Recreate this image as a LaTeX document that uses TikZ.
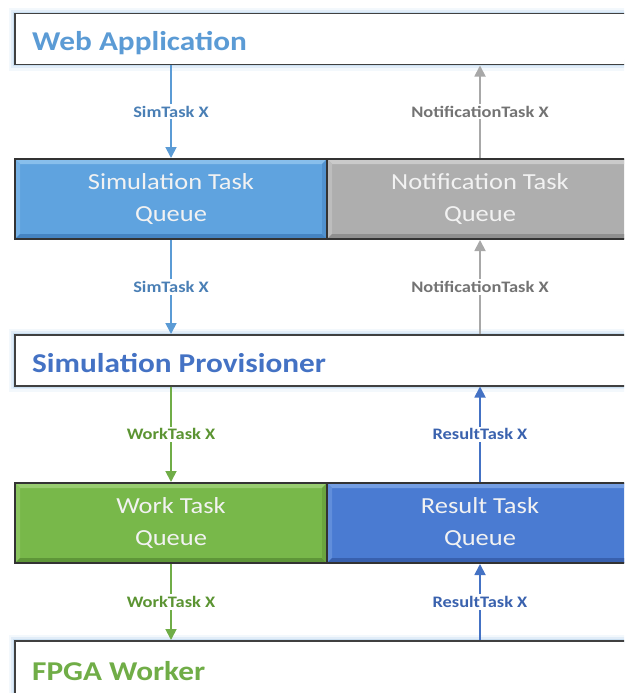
\documentclass[tikz,border=0pt]{standalone}
\usepackage{fontspec}
\setmainfont{Carlito}[FakeStretch=1.15]
\usetikzlibrary{arrows.meta,calc}
\definecolor{glowc}{HTML}{9DC3E6}
\definecolor{webc}{HTML}{5B9BD5}
\definecolor{provc}{HTML}{4472C4}
\definecolor{fpgac}{HTML}{70AD47}
\definecolor{simb}{HTML}{5FA3DF}\definecolor{simt}{HTML}{88BFEC}\definecolor{simd}{HTML}{4584C2}
\definecolor{notb}{HTML}{AEAEAE}\definecolor{nott}{HTML}{CACACA}\definecolor{notd}{HTML}{8F8F8F}
\definecolor{wrkb}{HTML}{78B84A}\definecolor{wrkt}{HTML}{98CD70}\definecolor{wrkd}{HTML}{5E9638}
\definecolor{resb}{HTML}{4A7BD2}\definecolor{rest}{HTML}{749EE3}\definecolor{resd}{HTML}{3860AE}
\definecolor{simline}{HTML}{5B9BD5}\definecolor{simlab}{HTML}{4A7FB5}
\definecolor{notline}{HTML}{A8A8A8}\definecolor{notlab}{HTML}{737373}
\definecolor{wrkline}{HTML}{70AD47}\definecolor{wrklab}{HTML}{5B9432}
\definecolor{resline}{HTML}{4472C4}\definecolor{reslab}{HTML}{3A62AE}
\newcommand{\titlefont}{\fontsize{27.2}{30}\selectfont\bfseries}
\newcommand{\qfont}{\fontsize{23}{32}\selectfont}
\newcommand{\lfont}{\fontsize{16}{18}\selectfont\bfseries}
\tikzset{
  wbox/.style={draw=black!75, line width=1.5pt, fill=white, minimum width=620pt,
    minimum height=#1, anchor=north west, inner sep=0pt,
    preaction={draw=glowc, line width=12pt, opacity=0.12},
    preaction={draw=glowc, line width=7pt, opacity=0.2},
    preaction={draw=glowc, line width=3.5pt, opacity=0.35}},
  wbox/.default=51pt,
  titletext/.style={anchor=base west, inner sep=0pt, font=\titlefont},
  qbox/.style={draw=black!80, line width=2pt, minimum width=#1, minimum height=80pt,
    anchor=north west, inner sep=0pt, text=white!95!black, font=\qfont, align=center},
  bevel/.style n args={3}{fill=#1, path picture={
    \coordinate (nw) at (path picture bounding box.north west);
    \coordinate (ne) at (path picture bounding box.north east);
    \coordinate (sw) at (path picture bounding box.south west);
    \coordinate (se) at (path picture bounding box.south east);
    \fill[#2] (nw) -- (ne) -- ($(ne)+(-5,5)$) -- ($(nw)+(5,5)$) -- cycle;
    \fill[#2!55!#1] (nw) -- (sw) -- ($(sw)+(5,-5)$) -- ($(nw)+(5,5)$) -- cycle;
    \fill[#3] (sw) -- (se) -- ($(se)+(-5,-5)$) -- ($(sw)+(5,-5)$) -- cycle;
    \fill[#3!55!#1] (ne) -- (se) -- ($(se)+(-5,-5)$) -- ($(ne)+(-5,5)$) -- cycle;
  }},
  flow/.style={line width=1.8pt, -{Triangle[length=11pt,width=11pt]}},
  lab/.style={midway, fill=white, inner sep=2pt, font=\lfont},
}
\begin{document}
\begin{tikzpicture}[x=1pt,y=-1pt]
\useasboundingbox (0,0) rectangle (624,693);
\clip (0,0) rectangle (624,693);
% white boxes
\node[wbox] (web) at (14,13) {};
\node[titletext, text=webc] (webt) at ($(web.north west)+(18,38)$) {Web Application};
\node[wbox] (prov) at (14,334) {};
\node[titletext, text=provc] (provt) at ($(prov.north west)+(18,38)$) {Simulation Provisioner};
\node[wbox=70pt] (fpga) at (14,640) {};
\node[titletext, text=fpgac] (fpgat) at ($(fpga.north west)+(18,40)$) {FPGA Worker};
% queues
\node[qbox=312pt, bevel={simb}{simt}{simd}] (simq) at (14,158) {Simulation Task\\Queue};
\node[qbox=306pt, bevel={notb}{nott}{notd}] (notq) at (326,158) {Notification Task\\Queue};
\node[qbox=312pt, bevel={wrkb}{wrkt}{wrkd}] (wrkq) at (14,482) {Work Task\\Queue};
\node[qbox=306pt, bevel={resb}{rest}{resd}] (resq) at (326,482) {Result Task\\Queue};
% connectors
\draw[flow, simline] (web.south -| simq.north) -- node[lab, text=simlab] {SimTask X} (simq.north);
\draw[flow, notline] (notq.north) -- node[lab, text=notlab] {NotificationTask X} (web.south -| notq.north);
\draw[flow, simline] (simq.south) -- node[lab, text=simlab] {SimTask X} (prov.north -| simq.south);
\draw[flow, notline] (prov.north -| notq.south) -- node[lab, text=notlab] {NotificationTask X} (notq.south);
\draw[flow, wrkline] (prov.south -| wrkq.north) -- node[lab, text=wrklab] {WorkTask X} (wrkq.north);
\draw[flow, resline] (resq.north) -- node[lab, text=reslab] {ResultTask X} (prov.south -| resq.north);
\draw[flow, wrkline] (wrkq.south) -- node[lab, text=wrklab] {WorkTask X} (fpga.north -| wrkq.south);
\draw[flow, resline] (fpga.north -| resq.south) -- node[lab, text=reslab] {ResultTask X} (resq.south);
\end{tikzpicture}
\end{document}
